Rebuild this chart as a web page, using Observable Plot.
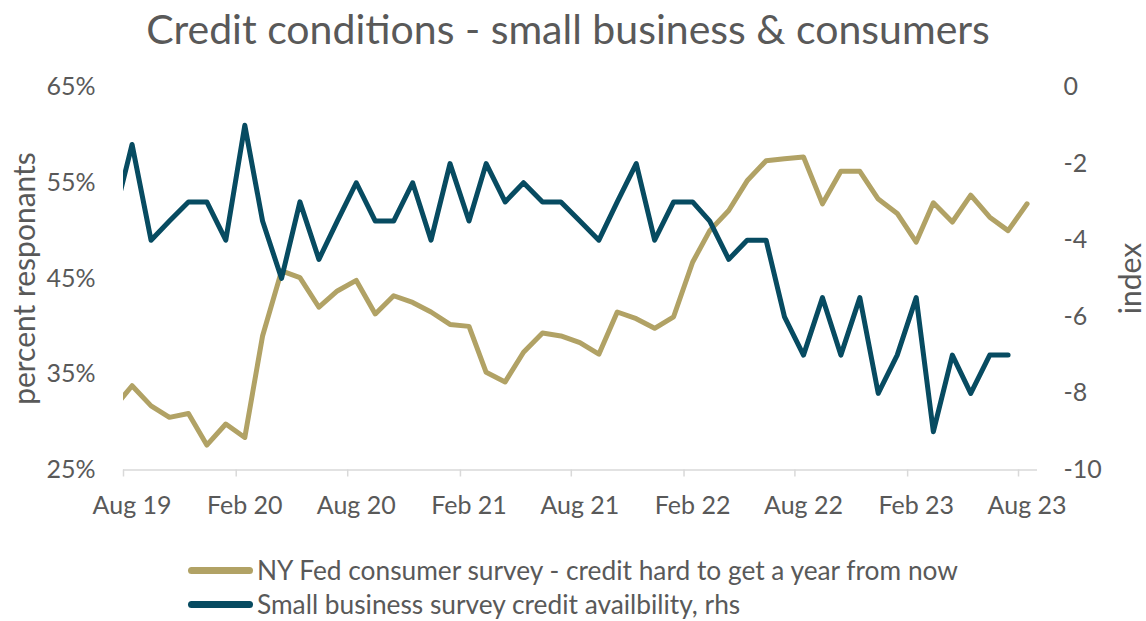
<!DOCTYPE html>
<html>
<head>
<meta charset="utf-8">
<script src="https://cdn.jsdelivr.net/npm/d3@7"></script>
<script src="https://cdn.jsdelivr.net/npm/@observablehq/plot@0.6"></script>
<style>
  html, body { margin: 0; padding: 0; background: #fff; }
  body { width: 1146px; font-family: Lato, sans-serif; color: #595959; overflow: hidden; }
  #title { height: 60px; line-height: 58px; text-align: center; font-size: 41px; padding-right: 10px; }
  #chart svg { display: block; }
  #legend { padding-left: 188px; font-size: 26.3px; }
  .row { height: 34px; display: flex; align-items: center; }
  .sw { width: 65px; height: 7px; border-radius: 3.5px; margin-right: 4px; }
</style>
</head>
<body>
<div id="title">Credit conditions - small business &amp; consumers</div>
<div id="chart"></div>
<div id="legend"></div>
<script>
// ---- data (monthly, mid-month observations) ----
const firstMonth = "2019-07";
const nyFedValues = [31.4, 33.8, 31.7, 30.5, 30.9, 27.6, 29.8, 28.4, 39.0, 45.8,
  45.1, 42.0, 43.7, 44.8, 41.3, 43.2, 42.5, 41.5, 40.2, 40.0,
  35.2, 34.2, 37.3, 39.3, 39.0, 38.3, 37.1, 41.5, 40.8, 39.8,
  41.0, 46.7, 50.0, 52.1, 55.2, 57.3, 57.5, 57.7, 52.8, 56.2,
  56.2, 53.3, 51.8, 48.8, 52.9, 50.9, 53.7, 51.4, 50.0, 52.8];
const smallBizValues = [-3.5, -1.5, -4, -3.5, -3, -3, -4, -1, -3.5, -5,
  -3, -4.5, -3.5, -2.5, -3.5, -3.5, -2.5, -4, -2, -3.5,
  -2, -3, -2.5, -3, -3, -3.5, -4, -3, -2, -4,
  -3, -3, -3.5, -4.5, -4, -4, -6, -7, -5.5, -7,
  -5.5, -8, -7, -5.5, -9, -7, -8, -7, -7];
const seriesNames = ["NY Fed consumer survey - credit hard to get a year from now",
  "Small business survey credit availbility, rhs"];
const seriesColors = ["#B1A265", "#074B61"];
const xTickLabels = ["Aug 19", "Feb 20", "Aug 20", "Feb 21", "Aug 21", "Feb 22", "Aug 22", "Feb 23", "Aug 23"];
const leftTicks = [25, 35, 45, 55, 65];
const rightTicks = [-10, -8, -6, -4, -2, 0];
const xDomain = ["2019-08-01", "2023-09-01"];
const leftDomain = [25, 65];
const rightDomain = [-10, 0];
const leftTitle = "percent responants";
const rightTitle = "index";

// ---- build ----
const start = d3.utcParse("%Y-%m")(firstMonth);
const monthDate = i => d3.utcDay.offset(d3.utcMonth.offset(start, i), 14);
const gold = nyFedValues.map((v, i) => ({date: monthDate(i), value: v}));
const blue = smallBizValues.map((v, i) => ({date: monthDate(i), value: v}));
// map right-axis index onto left scale
const toLeft = v => leftDomain[0] + (v - rightDomain[0]) / (rightDomain[1] - rightDomain[0]) * (leftDomain[1] - leftDomain[0]);
const fromLeft = y => Math.round(rightDomain[0] + (y - leftDomain[0]) / (leftDomain[1] - leftDomain[0]) * (rightDomain[1] - rightDomain[0]));
const parseTick = d3.utcParse("%b %y");
const tickDates = xTickLabels.map(parseTick);
const labelDates = tickDates.map(d => d3.utcDay.offset(d, 14));

const plot = Plot.plot({
  width: 1146,
  height: 493,
  marginTop: 26.5,
  marginBottom: 83.5,
  marginLeft: 123,
  marginRight: 109,
  style: {fontFamily: "Lato, sans-serif", fontSize: "25px", color: "#595959", background: "#fff"},
  x: {type: "utc", domain: xDomain.map(d => new Date(d))},
  y: {domain: leftDomain},
  marks: [
    Plot.ruleY([leftDomain[0]], {stroke: "#D9D9D9", strokeWidth: 1.5}),
    Plot.axisX(tickDates, {tickSize: 7, stroke: "#D9D9D9", strokeWidth: 1.5, tickFormat: () => "", label: null}),
    Plot.axisX(labelDates, {tickSize: 0, tickPadding: 26, tickFormat: d3.utcFormat("%b %y"), label: null, fill: "#595959"}),
    Plot.axisY(leftTicks, {anchor: "left", tickSize: 0, tickPadding: 28, tickFormat: d => d + "%", label: null, fill: "#595959"}),
    Plot.axisY(rightTicks.map(toLeft), {anchor: "right", tickSize: 0, tickPadding: 26, tickFormat: fromLeft, label: null, fill: "#595959"}),
    Plot.text([leftTitle], {frameAnchor: "left", textAnchor: "middle", dx: -98, rotate: -90, fill: "#595959", fontSize: 30}),
    Plot.text([rightTitle], {frameAnchor: "right", textAnchor: "middle", dx: 94, rotate: -90, fill: "#595959", fontSize: 30}),
    Plot.line(gold, {x: "date", y: "value", stroke: seriesColors[0], strokeWidth: 5, clip: true, strokeLinejoin: "round"}),
    Plot.line(blue, {x: "date", y: d => toLeft(d.value), stroke: seriesColors[1], strokeWidth: 5, clip: true, strokeLinejoin: "round"})
  ]
});
document.getElementById("chart").appendChild(plot);

const legend = document.getElementById("legend");
seriesNames.forEach((name, i) => {
  const row = document.createElement("div");
  row.className = "row";
  const sw = document.createElement("span");
  sw.className = "sw";
  sw.style.background = seriesColors[i];
  const t = document.createElement("span");
  t.textContent = name;
  row.appendChild(sw);
  row.appendChild(t);
  legend.appendChild(row);
});
</script>
</body>
</html>
